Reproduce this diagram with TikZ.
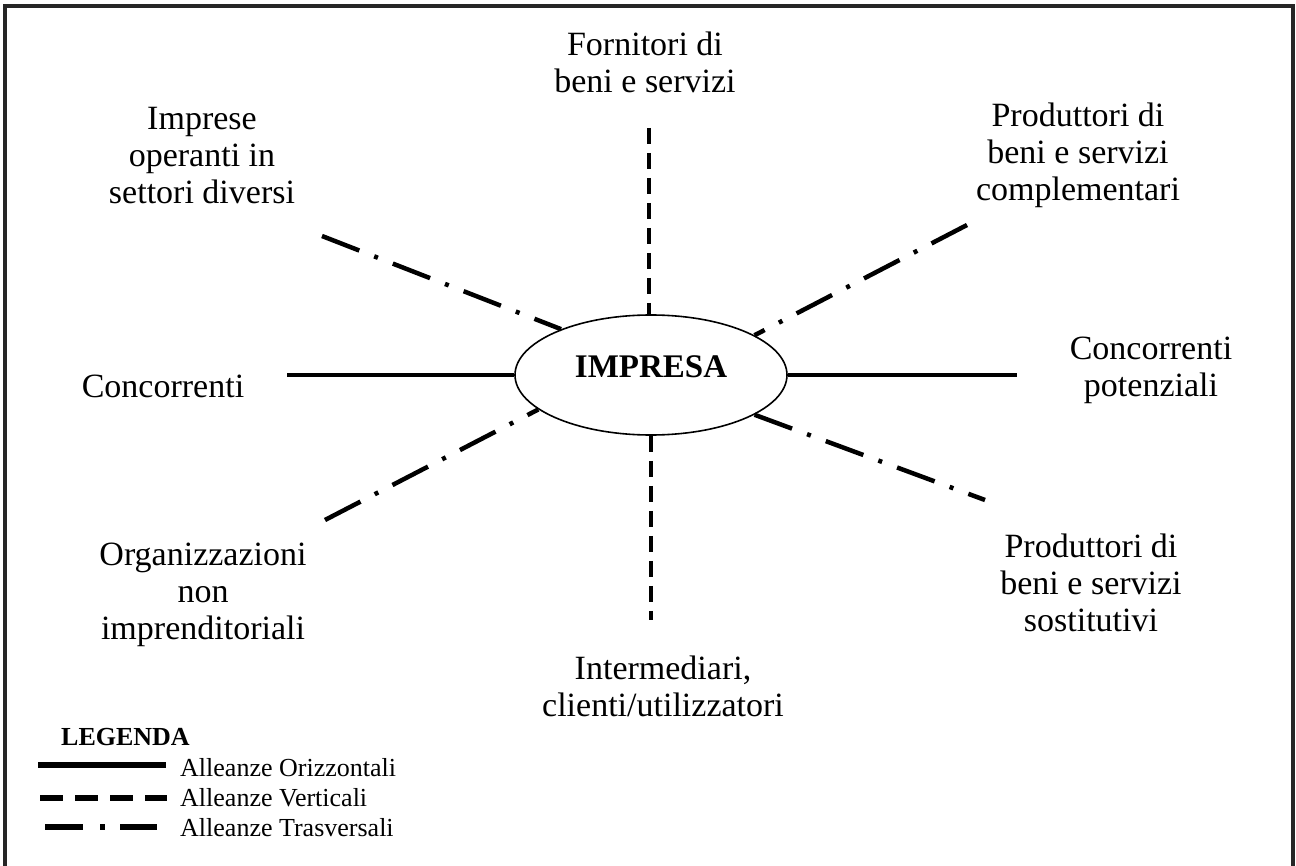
\documentclass[tikz,border=0pt]{standalone}
\usepackage{fontspec}
\setmainfont{Liberation Serif}
\usetikzlibrary{shapes.geometric}
\begin{document}
\begin{tikzpicture}[x=1pt,y=-1pt,
  lbl/.style={align=center, font=\fontsize{34}{37}\selectfont, inner sep=0pt, anchor=base},
  legtext/.style={font=\fontsize{26}{30}\selectfont, inner sep=0pt, anchor=base west},
  horiz/.style={line width=4.5pt},
  vert/.style={line width=4.8pt, dash pattern=on 16pt off 9pt},
  trasv/.style={line width=4.5pt, dash pattern=on 40pt off 16pt on 4pt off 16pt},
  leghoriz/.style={line width=6pt},
  legvert/.style={line width=6pt, dash pattern=on 23pt off 12pt},
  legtrasv/.style={line width=6pt, dash pattern=on 38pt off 17pt on 5pt off 15pt},
  frame/.style={line width=3.5pt, draw=black!85}]
\useasboundingbox (0,0) rectangle (1296,866);
% outer frame
\draw[frame] (5,870) -- (5,6) -- (1293,6) -- (1293,870);

% central firm
\node[ellipse, draw, line width=1.6pt, minimum width=272pt, minimum height=120pt, inner sep=0pt] (imp) at (651,375) {};
\node[font=\fontsize{33}{37}\selectfont\bfseries, inner sep=0pt, anchor=base] (imptext) at (651,378) {IMPRESA};

% partner labels (anchored at the baseline of their last line)
\node[lbl] (forn) at (645,93) {Fornitori di\\beni e servizi};
\node[lbl] (impr) at (202,204) {Imprese\\operanti in\\settori diversi};
\node[lbl] (pcompl) at (1078,201) {Produttori di\\beni e servizi\\complementari};
\node[lbl] (conc) at (163,398) {Concorrenti};
\node[lbl] (cpot) at (1151,397) {Concorrenti\\potenziali};
\node[lbl] (org) at (203,639) {Organizzazioni\\non\\imprenditoriali};
\node[lbl] (interm) at (663,716) {Intermediari,\\clienti/utilizzatori};
\node[lbl] (psost) at (1091,631) {Produttori di\\beni e servizi\\sostitutivi};

% alliance lines
\coordinate (pTop) at (649,128);
\coordinate (pBot) at (651,620);
\coordinate (pL) at (287,375);
\coordinate (pR) at (1017,375);
\coordinate (pUL) at (322,236);
\coordinate (pUR) at (967,225);
\coordinate (pLL) at (325,520);
\coordinate (pLR) at (985,500);
\draw[vert] (pTop) -- (pTop |- imp.north);
\draw[vert] (imp.south) -- (pBot);
\draw[horiz] (pL) -- (imp.west);
\draw[horiz] (imp.east) -- (pR);
\draw[trasv] (pUL) -- (imp.153);
\draw[trasv] (pUR) -- (imp.21);
\draw[trasv] (pLL) -- (imp.197);
\draw[trasv] (imp.339) -- (pLR);

% legend
\node[legtext, font=\fontsize{26}{30}\selectfont\bfseries] (legtitle) at (61,745) {LEGENDA};
\coordinate (l1a) at (38,765);
\coordinate (l1b) at (166,765);
\coordinate (l2a) at (40,798);
\coordinate (l2b) at (167,798);
\coordinate (l3a) at (45,827);
\coordinate (l3b) at (157,827);
\draw[leghoriz] (l1a) -- (l1b);
\draw[legvert] (l2a) -- (l2b);
\draw[legtrasv] (l3a) -- (l3b);
\node[legtext] (l1t) at (180,776) {Alleanze Orizzontali};
\node[legtext] (l2t) at (180,806) {Alleanze Verticali};
\node[legtext] (l3t) at (180,836) {Alleanze Trasversali};
\end{tikzpicture}
\end{document}
